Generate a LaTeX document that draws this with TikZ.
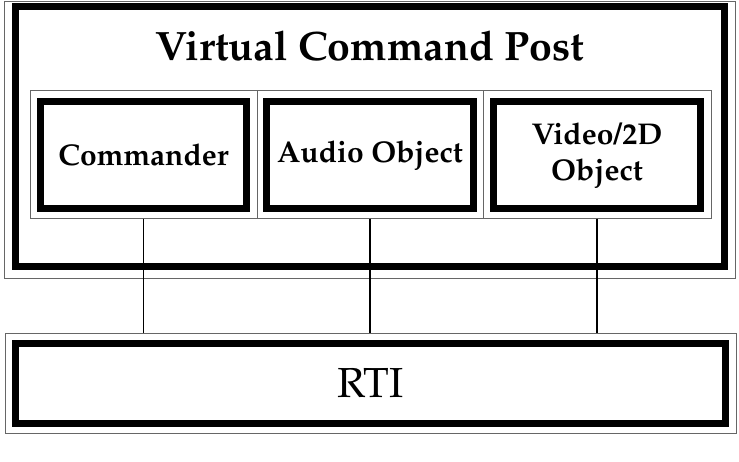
\documentclass[tikz,border=0pt]{standalone}
\usepackage[T1]{fontenc}
\usepackage{mathpazo}
\usetikzlibrary{positioning}

\begin{document}
\begin{tikzpicture}[x=1pt, y=-1pt,
  thinframe/.style={draw=black!60, line width=1pt, inner sep=0pt},
  thickbox/.style={draw, line width=7pt, inner sep=0pt, align=center,
    font=\fontsize{30}{36}\selectfont\bfseries},
  link/.style={draw, line width=1.1pt}]
  \useasboundingbox (0,0) rectangle (739,461);

  % Virtual Command Post
  \node[thinframe, minimum width=731pt, minimum height=277pt] (vcpf) at (369.5,139.5) {};
  \node[thickbox, minimum width=709pt, minimum height=260pt] (vcp) at (370,136.5) {};
  \node[anchor=base, font=\fontsize{41}{48}\selectfont\bfseries] (title) at (370,60) {Virtual Command Post};

  % components
  \node[thinframe, minimum width=227pt, minimum height=128pt] (cmdf) at (143.5,154) {};
  \node[thickbox, minimum width=206pt, minimum height=107pt] (cmd) at (143.5,155) {Commander};
  \node[thinframe, minimum width=226pt, minimum height=128pt] (audf) at (370,154) {};
  \node[thickbox, minimum width=207pt, minimum height=107pt] (aud) at (370,155) {Audio Object};
  \node[thinframe, minimum width=228pt, minimum height=128pt] (vidf) at (597,154) {};
  \node[thickbox, minimum width=207pt, minimum height=107pt] (vid) at (597,155) {Video/2D\\Object};

  % RTI
  \node[thinframe, minimum width=731pt, minimum height=100pt] (rtif) at (370.5,383) {};
  \node[thickbox, minimum width=710pt, minimum height=80pt,
    font=\fontsize{42}{48}\selectfont] (rti) at (370.5,383.5) {RTI};

  \foreach \f in {cmdf, audf, vidf}
    \draw[link] (\f.south) -- (\f.south |- rtif.north);
\end{tikzpicture}
\end{document}
